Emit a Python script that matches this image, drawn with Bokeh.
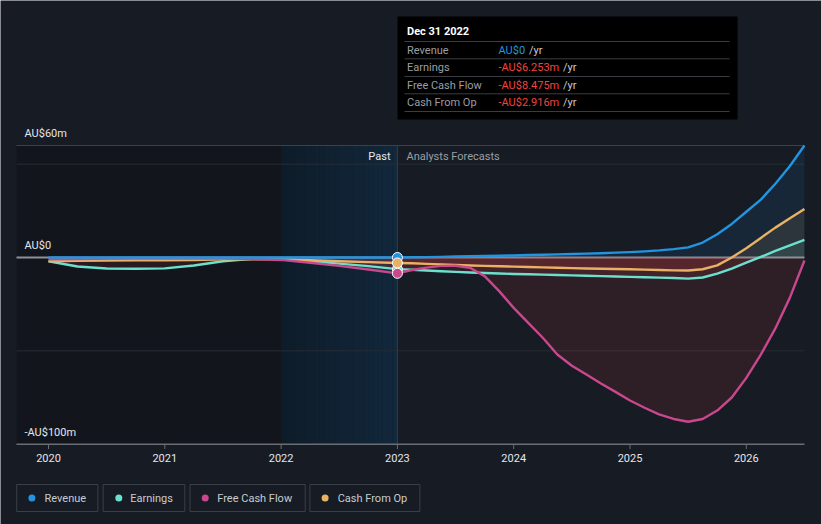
import numpy as np
from bokeh.plotting import figure
from bokeh.models import Range1d
from bokeh.core.properties import value
from bokeh.embed import file_html
from bokeh.resources import INLINE

# ---------------- data (AU$ millions) ----------------
past_t = [2020.0, 2020.25, 2020.5, 2020.75, 2021.0, 2021.25, 2021.5, 2021.75,
          2022.0, 2022.25, 2022.5, 2022.75, 2023.0]
past_revenue = [0.0, 0.0, 0.0, 0.0, 0.0, 0.0, 0.0, 0.0, 0.0, 0.0, 0.0, 0.0, 0.0]
past_earnings = [-2.0, -4.8, -5.9, -6.0, -5.8, -4.3, -2.0, -0.7, -0.7, -2.0, -3.3, -4.6, -6.253]
past_fcf = [-1.0, -0.8, -0.6, -0.5, -0.5, -0.5, -0.5, -0.8, -1.3, -2.8, -4.5, -6.4, -8.475]
past_cfo = [-2.0, -1.8, -1.6, -1.5, -1.5, -1.3, -1.0, -0.9, -1.0, -1.5, -2.0, -2.5, -2.916]

fc_t = [2023.125, 2023.25, 2023.375, 2023.5, 2023.625, 2023.75, 2023.875,
        2024.0, 2024.125, 2024.25, 2024.375, 2024.5, 2024.625, 2024.75, 2024.875,
        2025.0, 2025.125, 2025.25, 2025.375, 2025.5, 2025.625, 2025.75, 2025.875,
        2026.0, 2026.125, 2026.25, 2026.375, 2026.5]
fc_revenue = [0.1, 0.2, 0.35, 0.5, 0.65, 0.8, 0.95, 1.1, 1.3, 1.5, 1.7, 1.9, 2.1, 2.3,
              2.6, 2.9, 3.3, 3.8, 4.5, 5.4, 8.0, 12.5, 18.0, 24.5, 31.0, 39.5, 49.0, 60.0]
fc_earnings = [-6.6, -7.0, -7.4, -7.7, -8.0, -8.3, -8.6, -8.8, -9.0, -9.2, -9.4, -9.6,
               -9.8, -10.0, -10.2, -10.4, -10.6, -10.8, -11.0, -11.3, -10.7, -8.6, -6.0,
               -2.8, 0.3, 3.5, 6.5, 9.5]
fc_fcf = [-6.7, -5.4, -4.5, -4.4, -5.5, -10.0, -18.0, -27.0, -35.0, -43.0, -52.0, -58.0,
          -62.7, -67.5, -72.0, -76.6, -80.5, -84.0, -86.5, -88.0, -86.5, -82.0, -75.0,
          -64.5, -52.0, -38.0, -21.5, -1.6]
fc_cfo = [-3.1, -3.4, -3.7, -4.0, -4.3, -4.5, -4.7, -4.9, -5.1, -5.3, -5.5, -5.7, -5.9,
          -6.0, -6.2, -6.3, -6.5, -6.7, -6.9, -7.0, -6.3, -4.2, 0.0, 5.0, 10.5, 16.0,
          21.0, 26.0]

series_names = ["Revenue", "Earnings", "Free Cash Flow", "Cash From Op"]
year_ticks = [2020, 2021, 2022, 2023, 2024, 2025, 2026]
y_tick_values = [60, 0, -100]
y_tick_labels = ["AU$60m", "AU$0", "-AU$100m"]
grid_values = [50, -50]
past_band_start = 2022
forecast_start = 2023

tooltip_title = "Dec 31 2022"
tooltip_values = ["AU$0", "-AU$6.253m", "-AU$8.475m", "-AU$2.916m"]

# ---------------- styles ----------------
BG = "#161b24"
COLORS = ["#2394df", "#6ce0cf", "#c9488d", "#e9b165"]
NEG_FILL = "#e0403f"
FONT = value("Roboto")

# pixel <-> data mapping (frame covers the whole canvas)
PXX = 116.3
X_AT0 = 2020 - 48 / PXX
PXY = 112 / 60
Y_AT0 = 257 / PXY


def xd(px):
    return X_AT0 + px / PXX


def yd(py):
    return Y_AT0 - py / PXY


W, H = 821, 524
p = figure(width=W, height=H, x_range=Range1d(xd(0), xd(W)), y_range=Range1d(yd(H), yd(0)),
           output_backend="svg", toolbar_location=None, min_border=0,
           x_axis_location=None, y_axis_location=None,
           background_fill_color=BG, border_fill_color=BG, outline_line_color=None)
p.xgrid.visible = False
p.ygrid.visible = False

t = np.array(past_t + fc_t)
data = [np.array(past_revenue + fc_revenue), np.array(past_earnings + fc_earnings),
        np.array(past_fcf + fc_fcf), np.array(past_cfo + fc_cfo)]

left_edge = xd(16)
right_edge = t[-1]
top_val = y_tick_values[0]
bottom_val = y_tick_values[-1]

# ---------------- background bands ----------------
p.quad(left=[left_edge], right=[past_band_start], top=[top_val], bottom=[bottom_val],
       fill_color="#12161c", line_color=None)
n = 24
c0 = np.array([14, 28, 41])
c1 = np.array([18, 40, 60])
edges = np.linspace(past_band_start, forecast_start, n + 1)
cols = []
for i in range(n):
    c = c0 + (c1 - c0) * (i + 0.5) / n
    cols.append("#%02x%02x%02x" % tuple(int(round(v)) for v in c))
p.quad(left=edges[:-1], right=edges[1:], top=[top_val] * n, bottom=[bottom_val] * n,
       fill_color=cols, line_color=None)

# grid lines
p.segment(x0=[left_edge] * len(grid_values), x1=[right_edge] * len(grid_values),
          y0=grid_values, y1=grid_values, line_color="#272c35", line_width=1)
p.segment(x0=[left_edge], x1=[right_edge], y0=[top_val], y1=[top_val],
          line_color="#3b4049", line_width=1)

# zero line
p.segment(x0=[left_edge], x1=[right_edge], y0=[0], y1=[0], line_color="#8d9096", line_width=2)

# ---------------- fills ----------------
pos_alpha = [0.10, 0.10, 0.0, 0.10]
for k in [0, 3, 1, 2]:
    v = data[k]
    if pos_alpha[k] > 0:
        p.varea(x=t, y1=np.zeros_like(v), y2=np.maximum(v, 0), fill_color=COLORS[k],
                fill_alpha=pos_alpha[k])
    p.varea(x=t, y1=np.minimum(v, 0), y2=np.zeros_like(v), fill_color=NEG_FILL,
            fill_alpha=0.12)

# ---------------- lines ----------------
for k in [1, 3, 2, 0]:
    p.line(t, data[k], line_color=COLORS[k], line_width=2.4, line_join="round")

# vertical line at forecast start
p.segment(x0=[forecast_start], x1=[forecast_start], y0=[bottom_val], y1=[top_val],
          line_color="#23425e", line_width=1)

# markers at last reported value
idx = len(past_t) - 1
for k in [0, 1, 3, 2]:
    p.scatter(x=[past_t[idx]], y=[data[k][idx]], size=10, fill_color=COLORS[k],
              line_color="#ffffff", line_width=1)

# ---------------- x axis ----------------
p.segment(x0=[left_edge], x1=[right_edge], y0=[bottom_val], y1=[bottom_val],
          line_color="#6a6e75", line_width=1.5)
p.segment(x0=year_ticks, x1=year_ticks, y0=[bottom_val] * len(year_ticks),
          y1=[yd(448.5)] * len(year_ticks), line_color="#6a6e75", line_width=1)
p.text(x=year_ticks, y=[yd(457)] * len(year_ticks), text=[str(y) for y in year_ticks],
       text_font=FONT, text_font_size="11px", text_color="#e4e6ea",
       text_align="center", text_baseline="middle")

# y labels (inside, above line)
p.text(x=[xd(24)] * len(y_tick_values), y=[v + 12 / PXY for v in y_tick_values],
       text=y_tick_labels, text_font=FONT, text_font_size="11px", text_color="#e4e6ea",
       text_align="left", text_baseline="middle")

# Past / Analysts Forecasts labels
p.text(x=[xd(390)], y=[yd(156)], text=["Past"], text_font=FONT, text_font_size="11px",
       text_color="#e6e8eb", text_align="right", text_baseline="middle")
p.text(x=[xd(406)], y=[yd(156)], text=["Analysts Forecasts"], text_font=FONT,
       text_font_size="11px", text_color="#9a9fa6", text_align="left", text_baseline="middle")

# ---------------- tooltip ----------------
p.quad(left=[xd(397)], right=[xd(737)], top=[yd(16)], bottom=[yd(119)],
       fill_color="#000000", line_color=None)
p.text(x=[xd(406.5)], y=[yd(31)], text=[tooltip_title], text_font=FONT,
       text_font_size="11px", text_font_style="bold", text_color="#ffffff",
       text_align="left", text_baseline="middle")
sep_y = [41, 58.3, 76, 93.3, 111]
p.segment(x0=[xd(404)] * 5, x1=[xd(729)] * 5, y0=[yd(s) for s in sep_y],
          y1=[yd(s) for s in sep_y], line_color="#3a3d42", line_width=1)
row_y = [49.5, 67, 84.5, 101.5]
p.text(x=[xd(406.5)] * 4, y=[yd(r) for r in row_y], text=series_names, text_font=FONT,
       text_font_size="11px", text_color="#9a9ea5", text_align="left", text_baseline="middle")
val_colors = [COLORS[0] if not s.startswith("-") else "#f0443f" for s in tooltip_values]
p.text(x=[xd(498)] * 4, y=[yd(r) for r in row_y], text=tooltip_values, text_font=FONT,
       text_font_size="11px", text_color=val_colors, text_align="left", text_baseline="middle")
yr_x = [528.5, 562.5, 562.5, 562.5]
p.text(x=[xd(v) for v in yr_x], y=[yd(r) for r in row_y], text=["/yr"] * 4, text_font=FONT,
       text_font_size="11px", text_color="#c8ccd2", text_align="left", text_baseline="middle")

# ---------------- legend ----------------
box_l = [16.2, 102.6, 189.5, 309.4]
box_r = [97.4, 184.3, 304.7, 419.4]
dot_x = [31.4, 118.3, 204.7, 324.6]
txt_x = [44.0, 129.8, 216.8, 337.2]
leg_top, leg_bot, leg_mid = 484, 511, 497.5
p.quad(left=[xd(v) for v in box_l], right=[xd(v) for v in box_r], top=[yd(leg_top)] * 4,
       bottom=[yd(leg_bot)] * 4, fill_color=BG, line_color="#3b4048", line_width=1)
p.scatter(x=[xd(v) for v in dot_x], y=[yd(leg_mid)] * 4, size=7, fill_color=COLORS,
          line_color=None)
p.text(x=[xd(v) for v in txt_x], y=[yd(leg_mid)] * 4, text=series_names, text_font=FONT,
       text_font_size="11px", text_color="#c8ccd2", text_align="left", text_baseline="middle")

open("out.html", "w").write(file_html(p, INLINE))
